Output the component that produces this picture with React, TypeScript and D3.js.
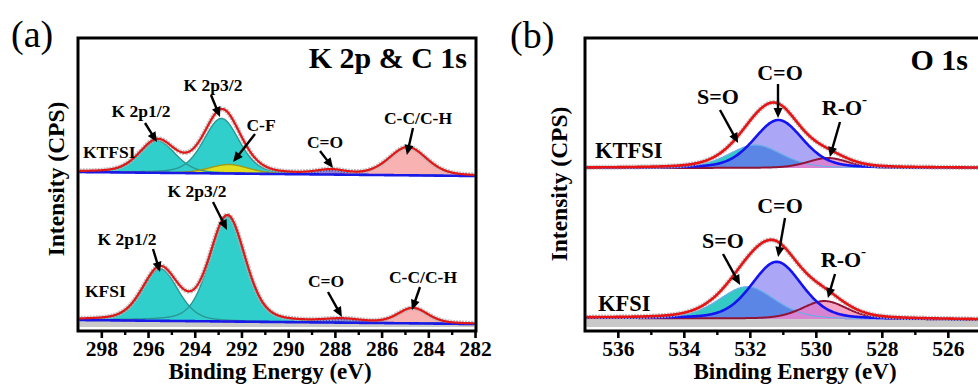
import React from 'react';
import * as d3 from 'd3';

// ---------------- data ----------------
const ticksA = [298, 296, 294, 292, 290, 288, 286, 284, 282];
const minorTicksA = [297, 295, 293, 291, 289, 287, 285, 283];
const ticksB = [536, 534, 532, 530, 528, 526];
const minorTicksB = [535, 533, 531, 529, 527, 525];

// Panel (a) KTFSI — K 2p & C 1s fitted components
const aTopLabels = ['K 2p1/2', 'K 2p3/2', 'C-F', 'C=O', 'C-C/C-H'];
const aTopCenter = [295.62, 292.88, 292.55, 288.2, 284.9];
const aTopHeight = [32, 55, 9, 4, 28];
const aTopFwhm = [1.8, 1.8, 2.0, 1.4, 1.9];
const aTopBackground = [158, 154];

// Panel (a) KFSI
const aBotLabels = ['K 2p1/2', 'K 2p3/2', 'C=O', 'C-C/C-H'];
const aBotCenter = [295.5, 292.62, 287.7, 284.68];
const aBotHeight = [52, 105, 3, 15];
const aBotFwhm = [1.8, 1.8, 1.8, 1.5];
const aBotBackground = [10, 6];

// Panel (b) KTFSI — O 1s
const bTopLabels = ['S=O', 'C=O', 'R-O'];
const bTopCenter = [531.85, 531.15, 529.65];
const bTopHeight = [23, 48, 10];
const bTopFwhm = [1.9, 1.75, 1.45];
const bTopBackground = [162, 162];

// Panel (b) KFSI
const bBotLabels = ['S=O', 'C=O', 'R-O'];
const bBotCenter = [532.1, 531.2, 529.75];
const bBotHeight = [32, 57, 18];
const bBotFwhm = [2.0, 1.8, 1.6];
const bBotBackground = [12, 10];

const sampleNames = ['KTFSI', 'KFSI'];

// ---------------- layout / style ----------------
const FONT = '"Liberation Serif", "Times New Roman", serif';
const W = 978;
const H = 388;
const PLOT_TOP = 38;
const AXIS_Y = 331;
const MIX = 0.3; // Gaussian-Lorentzian mixing

const yScale = d3.scaleLinear().domain([0, 290]).range([330, 40]);
const xA = d3.scaleLinear().domain([299.02, 281.98]).range([78, 476]);
const xB = d3.scaleLinear().domain([537.01, 523.01]).range([585, 1047]);

function pv(E: number, c: number, h: number, w: number) {
  const t = Math.pow((2 * (E - c)) / w, 2);
  return h * ((1 - MIX) * Math.exp(-Math.LN2 * t) + MIX / (1 + t));
}

type Spec = {
  centers: number[];
  heights: number[];
  fwhms: number[];
  bg: number[];
};

function makeSpec(x: d3.ScaleLinear<number, number>, s: Spec) {
  const dom = x.domain();
  const lo = Math.min(dom[0], dom[1]);
  const hi = Math.max(dom[0], dom[1]);
  const grid = d3.range(lo, hi + 1e-9, 0.02);
  const bgFn = d3.scaleLinear().domain(dom).range(s.bg);
  const comp = (i: number, e: number) => pv(e, s.centers[i], s.heights[i], s.fwhms[i]);
  const total = (e: number) => s.centers.reduce((acc, _c, i) => acc + comp(i, e), 0);
  const compArea = (f: (e: number) => number) =>
    d3
      .area<number>()
      .x((e) => x(e))
      .y0((e) => yScale(bgFn(e)))
      .y1((e) => yScale(bgFn(e) + f(e)))(grid) || '';
  const compLine = (f: (e: number) => number) =>
    d3
      .line<number>()
      .x((e) => x(e))
      .y((e) => yScale(bgFn(e) + f(e)))(grid) || '';
  return {
    area: (i: number) => compArea((e) => comp(i, e)),
    line: (i: number) => compLine((e) => comp(i, e)),
    overlap: (i: number, j: number) => compArea((e) => Math.min(comp(i, e), comp(j, e))),
    envelope: compLine(total),
    baseline: compLine(() => 0),
    gray:
      d3
        .area<number>()
        .x((e) => x(e))
        .y0(() => yScale(3))
        .y1((e) => yScale(bgFn(e)))(grid) || '',
  };
}

const specATop = makeSpec(xA, { centers: aTopCenter, heights: aTopHeight, fwhms: aTopFwhm, bg: aTopBackground });
const specABot = makeSpec(xA, { centers: aBotCenter, heights: aBotHeight, fwhms: aBotFwhm, bg: aBotBackground });
const specBTop = makeSpec(xB, { centers: bTopCenter, heights: bTopHeight, fwhms: bTopFwhm, bg: bTopBackground });
const specBBot = makeSpec(xB, { centers: bBotCenter, heights: bBotHeight, fwhms: bBotFwhm, bg: bBotBackground });

// styles for panel (a) components by label
const aFill: Record<string, string> = {
  'K 2p1/2': '#31cfcb',
  'K 2p3/2': '#31cfcb',
  'C-F': '#e0e020',
  'C=O': '#8c7cdc',
  'C-C/C-H': '#f9b2b2',
};
const aStroke: Record<string, string> = {
  'K 2p1/2': '#2a9896',
  'K 2p3/2': '#2a9896',
  'C-F': '#9c9c1c',
  'C=O': '#3434d8',
  'C-C/C-H': '#e06060',
};

// annotation layout: tip in data coords [energy, intensity], tail & label in px
type Ann = { text: string; tip: [number, number]; tail: [number, number]; label: [number, number]; sup?: boolean };
const annA: Ann[] = [
  { text: 'K 2p1/2', tip: [295.64, 188], tail: [145, 123], label: [141, 117] },
  { text: 'K 2p3/2', tip: [292.94, 213], tail: [211, 95], label: [213, 91] },
  { text: 'C-F', tip: [292.38, 168], tail: [255, 134], label: [261, 131] },
  { text: 'C=O', tip: [288.1, 162], tail: [320, 151], label: [325, 148] },
  { text: 'C-C/C-H', tip: [284.94, 175], tail: [413, 128], label: [418, 124] },
  { text: 'K 2p3/2', tip: [292.64, 100], tail: [213, 202], label: [197, 197] },
  { text: 'K 2p1/2', tip: [295.51, 58], tail: [153, 249], label: [127, 245] },
  { text: 'C=O', tip: [287.72, 13], tail: [328, 292], label: [326, 287] },
  { text: 'C-C/C-H', tip: [284.72, 20], tail: [420, 287], label: [423, 283] },
];
const annB: Ann[] = [
  { text: 'S=O', tip: [532.37, 187], tail: [720, 110], label: [718, 104] },
  { text: 'C=O', tip: [531.16, 212], tail: [778, 84], label: [780, 80] },
  { text: 'R-O', tip: [529.59, 173], tail: [840, 122], label: [842, 115], sup: true },
  { text: 'C=O', tip: [531.16, 73], tail: [785, 218], label: [780, 213] },
  { text: 'S=O', tip: [532.31, 45], tail: [723, 254], label: [723, 248] },
  { text: 'R-O', tip: [529.65, 32], tail: [835, 274], label: [841, 267], sup: true },
];

function Arrow({ x, a }: { x: d3.ScaleLinear<number, number>; a: Ann }) {
  const tx = x(a.tip[0]);
  const ty = yScale(a.tip[1]);
  const [sx, sy] = a.tail;
  const dx = tx - sx;
  const dy = ty - sy;
  const len = Math.hypot(dx, dy);
  const ux = dx / len;
  const uy = dy / len;
  const head = 10;
  const hw = 4.5;
  const bx = tx - ux * head;
  const by = ty - uy * head;
  return (
    <g>
      <line x1={sx} y1={sy} x2={bx + ux * 1} y2={by + uy * 1} stroke="#000" strokeWidth={2.4} />
      <path
        d={`M${tx},${ty} L${bx - uy * hw},${by + ux * hw} L${bx + uy * hw},${by - ux * hw} Z`}
        fill="#000"
      />
    </g>
  );
}

function Axis({ x, ticks, minor, x0, x1 }: { x: d3.ScaleLinear<number, number>; ticks: number[]; minor: number[]; x0: number; x1: number }) {
  return (
    <g>
      <rect x={x0} y={PLOT_TOP} width={x1 - x0} height={AXIS_Y - PLOT_TOP} fill="none" stroke="#000" strokeWidth={3} />
      {ticks.map((t) => (
        <g key={'M' + t}>
          <line x1={x(t)} x2={x(t)} y1={AXIS_Y} y2={AXIS_Y + 7} stroke="#000" strokeWidth={2.6} />
          <text x={x(t)} y={356} textAnchor="middle" fontFamily={FONT} fontWeight="bold" fontSize={21.5} fill="#000">
            {t}
          </text>
        </g>
      ))}
      {minor.map((t) => (
        <line key={'m' + t} x1={x(t)} x2={x(t)} y1={AXIS_Y} y2={AXIS_Y + 4} stroke="#000" strokeWidth={2.4} />
      ))}
    </g>
  );
}

function PanelA() {
  const specs = [
    { s: specATop, labels: aTopLabels, bottom: false },
    { s: specABot, labels: aBotLabels, bottom: true },
  ];
  return (
    <g>
      <g clipPath="url(#clipA)">
        {specs.map(({ s, labels, bottom }, k) => (
          <g key={k}>
            {bottom && <path d={s.gray} fill="#c9c9c9" />}
            {labels.map((l, i) => (
              <path key={'f' + i} d={s.area(i)} fill={aFill[l]} />
            ))}
            {labels.map((l, i) => (
              <path key={'s' + i} d={s.line(i)} fill="none" stroke={aStroke[l]} strokeWidth={1.4} />
            ))}
            <path d={s.envelope} fill="none" stroke="#b4b4b4" strokeWidth={5} strokeDasharray="2 1" opacity={0.8} />
            <path d={s.baseline} fill="none" stroke="#1a1ae8" strokeWidth={2.6} />
            <path d={s.envelope} fill="none" stroke="#e01818" strokeWidth={2.2} />
          </g>
        ))}
      </g>
      <Axis x={xA} ticks={ticksA} minor={minorTicksA} x0={78} x1={476} />
      {annA.map((a, i) => (
        <g key={i}>
          <Arrow x={xA} a={a} />
          <text x={a.label[0]} y={a.label[1]} textAnchor="middle" fontFamily={FONT} fontWeight="bold" fontSize={17.5} fill="#000">
            {a.text}
          </text>
        </g>
      ))}
      <text x={83} y={158} fontFamily={FONT} fontWeight="bold" fontSize={17.5} fill="#000">
        {sampleNames[0]}
      </text>
      <text x={85} y={297} fontFamily={FONT} fontWeight="bold" fontSize={17.5} fill="#000">
        {sampleNames[1]}
      </text>
      <text x={467} y={68} textAnchor="end" fontFamily={FONT} fontWeight="bold" fontSize={30} fill="#000">
        K 2p &amp; C 1s
      </text>
      <text x={11} y={47} fontFamily={FONT} fontSize={38} fill="#000">
        (a)
      </text>
      <text
        transform="translate(64,179) rotate(-90)"
        textAnchor="middle"
        fontFamily={FONT}
        fontWeight="bold"
        fontSize={23.5}
        fill="#000"
      >
        Intensity (CPS)
      </text>
      <text x={270} y={379} textAnchor="middle" fontFamily={FONT} fontWeight="bold" fontSize={23} fill="#000">
        Binding Energy (eV)
      </text>
    </g>
  );
}

function PanelB() {
  const specs = [
    { s: specBTop, bottom: false },
    { s: specBBot, bottom: true },
  ];
  // component order follows bTopLabels / bBotLabels: 0 S=O, 1 C=O, 2 R-O
  return (
    <g>
      <g clipPath="url(#clipB)">
        {specs.map(({ s, bottom }, k) => (
          <g key={k}>
            {bottom && <path d={s.gray} fill="#c9c9c9" />}
            <path d={s.area(0)} fill="#35c9c6" />
            <path d={s.area(1)} fill="#aba6f5" />
            <path d={s.overlap(0, 1)} fill="#5b86e6" />
            <path d={s.area(2)} fill="#f6a6c4" />
            <path d={s.overlap(1, 2)} fill="#d884d2" />
            <path d={s.line(0)} fill="none" stroke="#6aaee8" strokeWidth={1.2} />
            <path d={s.line(2)} fill="none" stroke="#8e1438" strokeWidth={2} />
            <path d={s.line(1)} fill="none" stroke="#1414f2" strokeWidth={2.6} />
            <path d={s.envelope} fill="none" stroke="#b4b4b4" strokeWidth={5} strokeDasharray="2 1" opacity={0.8} />
            <path d={s.envelope} fill="none" stroke="#e61414" strokeWidth={2.6} />
          </g>
        ))}
      </g>
      <Axis x={xB} ticks={ticksB} minor={minorTicksB} x0={585} x1={1047} />
      {annB.map((a, i) => (
        <g key={i}>
          <Arrow x={xB} a={a} />
          <text x={a.label[0]} y={a.label[1]} textAnchor="middle" fontFamily={FONT} fontWeight="bold" fontSize={22} fill="#000">
            {a.text}
          </text>
          {a.sup && (
            <text x={a.label[0] + 20} y={a.label[1] - 11} fontFamily={FONT} fontWeight="bold" fontSize={15} fill="#000">
              -
            </text>
          )}
        </g>
      ))}
      <text x={595} y={158} fontFamily={FONT} fontWeight="bold" fontSize={22.5} fill="#000">
        {sampleNames[0]}
      </text>
      <text x={598} y={311} fontFamily={FONT} fontWeight="bold" fontSize={22.5} fill="#000">
        {sampleNames[1]}
      </text>
      <text x={968} y={70} textAnchor="end" fontFamily={FONT} fontWeight="bold" fontSize={30} fill="#000">
        O 1s
      </text>
      <text x={510} y={48} fontFamily={FONT} fontSize={38} fill="#000">
        (b)
      </text>
      <text
        transform="translate(567,184) rotate(-90)"
        textAnchor="middle"
        fontFamily={FONT}
        fontWeight="bold"
        fontSize={23.5}
        fill="#000"
      >
        Intensity (CPS)
      </text>
      <text x={795} y={379} textAnchor="middle" fontFamily={FONT} fontWeight="bold" fontSize={23} fill="#000">
        Binding Energy (eV)
      </text>
    </g>
  );
}

export default function App() {
  return (
    <svg
      width={W}
      height={H}
      viewBox={`0 0 ${W} ${H}`}
      style={{ position: 'absolute', left: 0, top: 0, background: '#fff', display: 'block' }}
    >
      <defs>
        <clipPath id="clipA">
          <rect x={79.5} y={39.5} width={395} height={290} />
        </clipPath>
        <clipPath id="clipB">
          <rect x={586.5} y={39.5} width={460} height={290} />
        </clipPath>
      </defs>
      <rect x={0} y={0} width={W} height={H} fill="#fff" />
      <PanelA />
      <PanelB />
    </svg>
  );
}
